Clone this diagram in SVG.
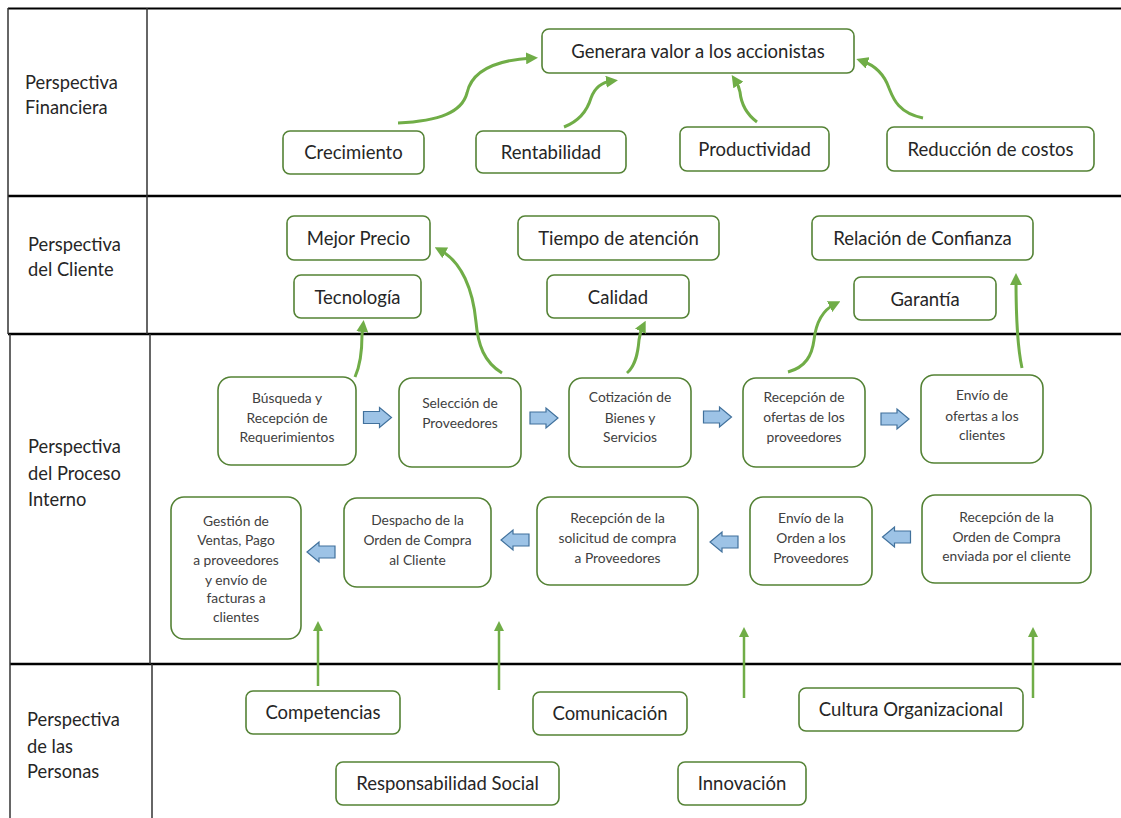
<svg xmlns="http://www.w3.org/2000/svg" xmlns:xlink="http://www.w3.org/1999/xlink" width="1121" height="818" viewBox="0 0 1121 818">
<style>
.bx{fill:#fff;stroke:#548235;stroke-width:1.6}
.t{font-family:Lato,"Liberation Sans",sans-serif;font-size:18.5px;fill:#262626;text-anchor:middle}
.pt{font-family:Lato,"Liberation Sans",sans-serif;font-size:13.8px;fill:#404040;text-anchor:middle}
.lb{font-family:Lato,"Liberation Sans",sans-serif;font-size:18.3px;fill:#262626}
.con{fill:none;stroke:#70AD47;stroke-width:3;marker-end:url(#ah)}
.con2{fill:none;stroke:#70AD47;stroke-width:2.5;marker-end:url(#ah2)}
.ba{fill:#9DC3E6;stroke:#41719C;stroke-width:1.2}
.hl{stroke:#000;stroke-width:2.5}
.vl{stroke:#333;stroke-width:1.5}
</style>
<defs>
<marker id="ah" viewBox="0 0 10 10" refX="5" refY="5" markerWidth="12" markerHeight="12" markerUnits="userSpaceOnUse" orient="auto"><path d="M0,0 L10,5 L0,10 z" fill="#70AD47"/></marker>
<marker id="ah2" viewBox="0 0 10 10" refX="5" refY="5" markerWidth="10" markerHeight="10" markerUnits="userSpaceOnUse" orient="auto"><path d="M0,0 L10,5 L0,10 z" fill="#70AD47"/></marker>
<path id="rarrow" d="M-14,-6 L2,-6 L2,-10 L14,0 L2,10 L2,6 L-14,6 Z"/>
</defs>

<g id="table">
<line class="hl" x1="8" y1="8.5" x2="1121" y2="8.5" style="stroke-width:2"/>
<line class="hl" x1="8" y1="196" x2="1121" y2="196"/>
<line class="hl" x1="8" y1="334" x2="1121" y2="334"/>
<line class="hl" x1="10" y1="664" x2="1121" y2="664"/>
<line class="vl" x1="8" y1="8" x2="8" y2="334"/>
<line class="vl" x1="10" y1="334" x2="10" y2="818"/>
<line class="vl" x1="147" y1="8" x2="147" y2="334"/>
<line class="vl" x1="150" y1="334" x2="150" y2="664"/>
<line class="vl" x1="152" y1="664" x2="152" y2="818"/>
<text class="lb" x="25" y="89">Perspectiva</text>
<text class="lb" x="25" y="114">Financiera</text>
<text class="lb" x="28" y="251">Perspectiva</text>
<text class="lb" x="28" y="276">del Cliente</text>
<text class="lb" x="28" y="453">Perspectiva</text>
<text class="lb" x="28" y="480">del Proceso</text>
<text class="lb" x="28" y="506">Interno</text>
<text class="lb" x="27" y="726">Perspectiva</text>
<text class="lb" x="27" y="753">de las</text>
<text class="lb" x="27" y="778">Personas</text>
</g>

<g id="connectors">
<path class="con" d="M398,123 C440,121 462,112 467,93 C472,70 498,60 532,58"/>
<path class="con" d="M564,127 C582,120 588,108 591,98 C595,87 603,82 612,81"/>
<path class="con" d="M757,122 C745,113 741,102 740,92 C739,86 737,83 735,80"/>
<path class="con" d="M923,118 C898,113 893,98 889,88 C884,74 874,65 862,61"/>
<path class="con" d="M355,377 C360,366 362,350 362,335 L363,326"/>
<path class="con" d="M502,373 C484,362 478,345 476,322 C473,290 462,262 440,250"/>
<path class="con" d="M627,373 C636,365 638,352 639,340 C640,333 641,330 643,326"/>
<path class="con" d="M788,372 C806,367 812,355 814,340 C816,322 823,310 835,304"/>
<path class="con" d="M1022,368 C1018,350 1016,320 1016,279"/>
<path class="con2" d="M318,686 L318,626"/>
<path class="con2" d="M499,690 L499,626"/>
<path class="con2" d="M744,698 L744,632"/>
<path class="con2" d="M1033,698 L1033,632"/>
<use href="#rarrow" class="ba" transform="translate(377.5,417.5)"/>
<use href="#rarrow" class="ba" transform="translate(544,418)"/>
<use href="#rarrow" class="ba" transform="translate(717.5,417)"/>
<use href="#rarrow" class="ba" transform="translate(895,419)"/>
<use href="#rarrow" class="ba" transform="translate(321,552) scale(-1,1)"/>
<use href="#rarrow" class="ba" transform="translate(515,540) scale(-1,1)"/>
<use href="#rarrow" class="ba" transform="translate(724,542) scale(-1,1)"/>
<use href="#rarrow" class="ba" transform="translate(896.5,537) scale(-1,1)"/>
</g>

<g id="n-valor"><rect class="bx" x="542" y="29" width="312" height="44" rx="7"/><text class="t" x="698" y="58">Generara valor a los accionistas</text></g>
<g id="n-crecimiento"><rect class="bx" x="283" y="131" width="141" height="43" rx="7"/><text class="t" x="353.5" y="159">Crecimiento</text></g>
<g id="n-rentabilidad"><rect class="bx" x="476" y="131" width="150" height="42" rx="7"/><text class="t" x="551" y="158.5">Rentabilidad</text></g>
<g id="n-productividad"><rect class="bx" x="680" y="127" width="149" height="44" rx="7"/><text class="t" x="754.5" y="155.5">Productividad</text></g>
<g id="n-reduccion"><rect class="bx" x="887" y="127" width="207" height="44" rx="7"/><text class="t" x="990.5" y="155.5">Reducción de costos</text></g>

<g id="n-precio"><rect class="bx" x="287" y="216" width="143" height="44" rx="7"/><text class="t" x="358.5" y="244.5">Mejor Precio</text></g>
<g id="n-tecnologia"><rect class="bx" x="294" y="275" width="127" height="43" rx="7"/><text class="t" x="357.5" y="303.5">Tecnología</text></g>
<g id="n-tiempo"><rect class="bx" x="518" y="216" width="201" height="44" rx="7"/><text class="t" x="618.5" y="244.5">Tiempo de atención</text></g>
<g id="n-calidad"><rect class="bx" x="547" y="275" width="142" height="43" rx="7"/><text class="t" x="618" y="303.5">Calidad</text></g>
<g id="n-relacion"><rect class="bx" x="812" y="216" width="221" height="44" rx="7"/><text class="t" x="922.5" y="244.5">Relación de Confianza</text></g>
<g id="n-garantia"><rect class="bx" x="854" y="277" width="142" height="43" rx="7"/><text class="t" x="925" y="305.5">Garantía</text></g>

<g id="n-busqueda"><rect class="bx" x="218" y="377" width="138" height="88" rx="13"/><text class="pt" x="287" y="403">Búsqueda y</text><text class="pt" x="287" y="423">Recepción de</text><text class="pt" x="287" y="442">Requerimientos</text></g>
<g id="n-seleccion"><rect class="bx" x="399" y="378" width="122" height="89" rx="13"/><text class="pt" x="460" y="408">Selección de</text><text class="pt" x="460" y="428">Proveedores</text></g>
<g id="n-cotizacion"><rect class="bx" x="569" y="378" width="122" height="89" rx="13"/><text class="pt" x="630" y="402">Cotización de</text><text class="pt" x="630" y="423">Bienes y</text><text class="pt" x="630" y="442">Servicios</text></g>
<g id="n-recofertas"><rect class="bx" x="743" y="378" width="122" height="89" rx="13"/><text class="pt" x="804" y="402">Recepción de</text><text class="pt" x="804" y="422">ofertas de los</text><text class="pt" x="804" y="442">proveedores</text></g>
<g id="n-envofertas"><rect class="bx" x="921" y="375" width="122" height="88" rx="13"/><text class="pt" x="982" y="400">Envío de</text><text class="pt" x="982" y="421">ofertas a los</text><text class="pt" x="982" y="440">clientes</text></g>

<g id="n-gestion"><rect class="bx" x="171" y="497" width="130" height="142" rx="13"/><text class="pt" x="236" y="526">Gestión de</text><text class="pt" x="236" y="545">Ventas, Pago</text><text class="pt" x="236" y="565">a proveedores</text><text class="pt" x="236" y="585">y envío de</text><text class="pt" x="236" y="603">facturas a</text><text class="pt" x="236" y="622">clientes</text></g>
<g id="n-despacho"><rect class="bx" x="344" y="498" width="147" height="89" rx="13"/><text class="pt" x="417.5" y="525">Despacho de la</text><text class="pt" x="417.5" y="545">Orden de Compra</text><text class="pt" x="417.5" y="565">al Cliente</text></g>
<g id="n-recsolicitud"><rect class="bx" x="537" y="497" width="161" height="88" rx="13"/><text class="pt" x="617.5" y="523">Recepción de la</text><text class="pt" x="617.5" y="543">solicitud de compra</text><text class="pt" x="617.5" y="563">a Proveedores</text></g>
<g id="n-envorden"><rect class="bx" x="750" y="497" width="122" height="88" rx="13"/><text class="pt" x="811" y="523">Envío de la</text><text class="pt" x="811" y="543">Orden a los</text><text class="pt" x="811" y="563">Proveedores</text></g>
<g id="n-recorden"><rect class="bx" x="922" y="495" width="169" height="88" rx="13"/><text class="pt" x="1006.5" y="522">Recepción de la</text><text class="pt" x="1006.5" y="542">Orden de Compra</text><text class="pt" x="1006.5" y="561">enviada por el cliente</text></g>

<g id="n-competencias"><rect class="bx" x="246" y="691" width="154" height="43" rx="7"/><text class="t" x="323" y="719">Competencias</text></g>
<g id="n-comunicacion"><rect class="bx" x="533" y="692" width="154" height="43" rx="7"/><text class="t" x="610" y="720">Comunicación</text></g>
<g id="n-cultura"><rect class="bx" x="799" y="688" width="224" height="43" rx="7"/><text class="t" x="911" y="716">Cultura Organizacional</text></g>
<g id="n-responsabilidad"><rect class="bx" x="336" y="762" width="223" height="43" rx="7"/><text class="t" x="447.5" y="790">Responsabilidad Social</text></g>
<g id="n-innovacion"><rect class="bx" x="678" y="762" width="128" height="43" rx="7"/><text class="t" x="742" y="790">Innovación</text></g>
</svg>
